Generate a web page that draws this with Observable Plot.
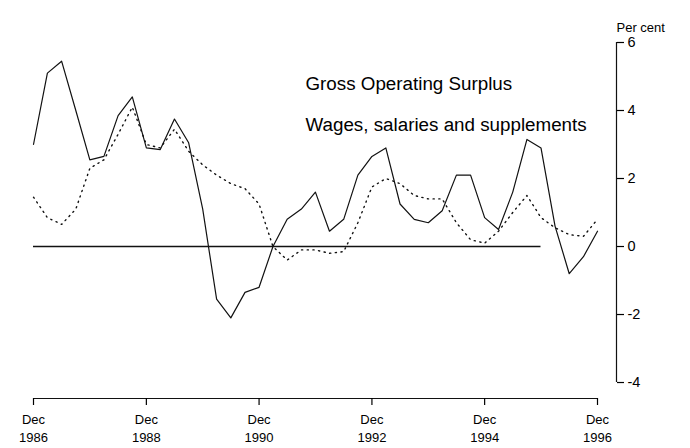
<!DOCTYPE html>
<html>
<head>
<meta charset="utf-8">
<script src="https://cdn.jsdelivr.net/npm/d3@7"></script>
<script src="https://cdn.jsdelivr.net/npm/@observablehq/plot@0.6"></script>
<style>
  html, body { margin: 0; padding: 0; background: #fff; }
  #chart svg { font-family: "Liberation Sans", Arial, Helvetica, sans-serif; }
</style>
</head>
<body>
<div id="chart"></div>
<script>
// Quarterly data, Dec 1986 .. Dec 1996 (41 quarters)
const startYear = 1986;
const quarters = d3.range(41).map(i => new Date(Date.UTC(startYear, 11 + 3 * i, 1)));

// Gross Operating Surplus (per cent)
const gos = [3.0, 5.1, 5.45, 4.0, 2.55, 2.65, 3.85, 4.4, 2.9, 2.85,
             3.75, 3.05, 1.1, -1.55, -2.1, -1.35, -1.2, 0.0, 0.8, 1.1,
             1.6, 0.45, 0.8, 2.1, 2.65, 2.9, 1.25, 0.8, 0.7, 1.05,
             2.1, 2.1, 0.85, 0.5, 1.6, 3.15, 2.9, 0.6, -0.8, -0.3, 0.45];

// Wages, salaries and supplements (per cent)
const wages = [1.45, 0.85, 0.65, 1.1, 2.3, 2.55, 3.3, 4.1, 3.0, 2.9,
               3.45, 2.8, 2.4, 2.1, 1.85, 1.7, 1.25, 0.0, -0.4, -0.1,
               -0.1, -0.2, -0.15, 0.7, 1.75, 2.0, 1.85, 1.5, 1.4, 1.4,
               0.7, 0.2, 0.1, 0.45, 1.0, 1.5, 0.85, 0.55, 0.35, 0.3, 0.8];

const seriesNames = ["Gross Operating Surplus", "Wages, salaries and supplements"];
const xTickYears = [1986, 1988, 1990, 1992, 1994, 1996];
const yTicks = [-4, -2, 0, 2, 4, 6];
const yLabel = "Per cent";

const xTicks = xTickYears.map(y => new Date(Date.UTC(y, 11, 1)));
const gosData = quarters.map((d, i) => ({date: d, value: gos[i]}));
const wagesData = quarters.map((d, i) => ({date: d, value: wages[i]}));
const yMin = -4.47;

const chart = Plot.plot({
  width: 690,
  height: 448,
  marginTop: 42,
  marginBottom: 50,
  marginLeft: 33,
  marginRight: 74,
  style: {fontFamily: "Liberation Sans, Arial, sans-serif", background: "#fff", color: "#000"},
  x: {type: "utc", domain: [quarters[0], quarters[40]], range: [33, 597]},
  y: {domain: [yMin, 6]},
  marks: [
    // zero line
    Plot.ruleY([0], {x1: quarters[0], x2: quarters[36], stroke: "#111", strokeWidth: 1.3}),
    // x axis line
    Plot.ruleY([yMin], {x1: quarters[0], x2: quarters[40], stroke: "#111", strokeWidth: 1.2}),
    Plot.axisX(xTicks, {
      anchor: "bottom", tickSize: 7, tickPadding: 6,
      tickFormat: d => `Dec\n${d.getUTCFullYear()}`,
      fontSize: 13, lineHeight: 1.35, label: null, strokeWidth: 1.2
    }),
    // y axis on the right
    Plot.ruleX([quarters[40]], {y1: -4, y2: 6, dx: 19, stroke: "#111", strokeWidth: 1.2}),
    Plot.axisY(yTicks, {
      anchor: "right", tickSize: 7, tickPadding: 4,
      tickFormat: d => String(d), fontSize: 14.5, label: null, strokeWidth: 1.2
    }),
    Plot.text([yLabel], {frameAnchor: "top-right", textAnchor: "start", dx: 0, dy: -20, fontSize: 13}),
    // series
    Plot.line(wagesData, {x: "date", y: "value", stroke: "#111", strokeWidth: 1.4, strokeDasharray: "1.2,4.5"}),
    Plot.line(gosData, {x: "date", y: "value", stroke: "#111", strokeWidth: 1.2}),
    // legend labels
    Plot.text([seriesNames[0]], {frameAnchor: "top-left", textAnchor: "start", dx: 272, dy: 34, fontSize: 18.8}),
    Plot.text([seriesNames[1]], {frameAnchor: "top-left", textAnchor: "start", dx: 272, dy: 75, fontSize: 18.8})
  ]
});
document.getElementById("chart").appendChild(chart);
</script>
</body>
</html>
